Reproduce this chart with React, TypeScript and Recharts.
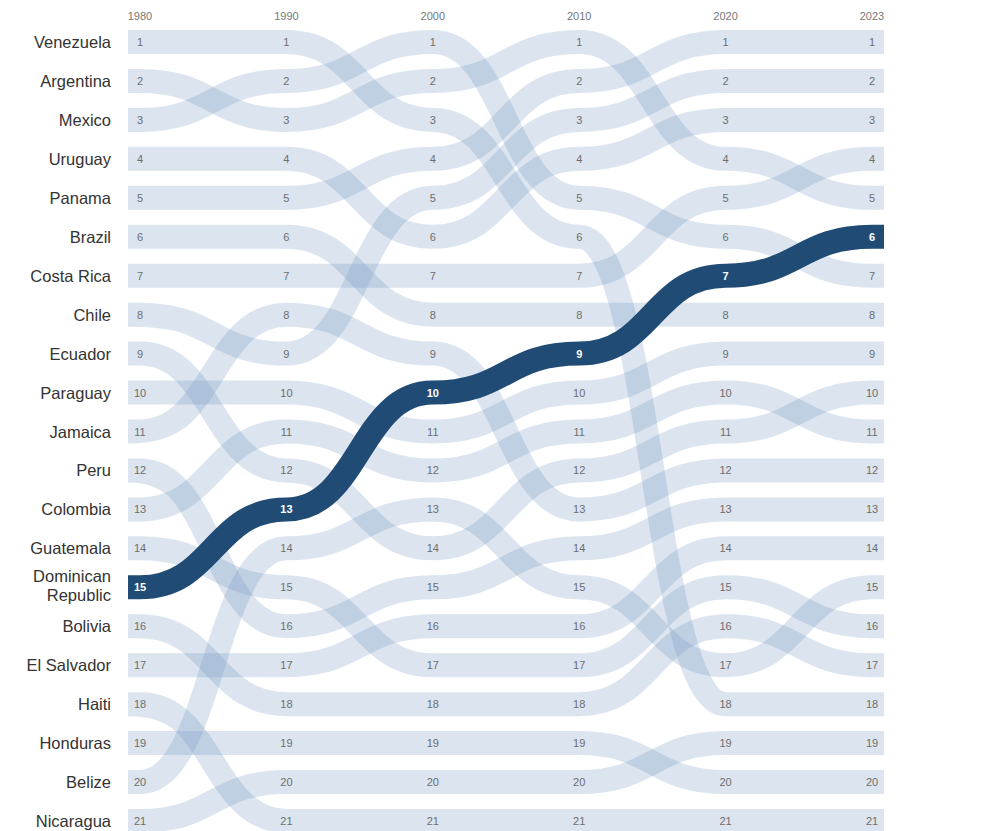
import { LineChart, Line, XAxis, YAxis, LabelList } from "recharts";

const YEARS = ["1980", "1990", "2000", "2010", "2020", "2023"];

const COUNTRIES = [
  "Venezuela", "Argentina", "Mexico", "Uruguay", "Panama", "Brazil", "Costa Rica",
  "Chile", "Ecuador", "Paraguay", "Jamaica", "Peru", "Colombia", "Guatemala",
  "Dominican Republic", "Bolivia", "El Salvador", "Haiti", "Honduras", "Belize", "Nicaragua",
];

const RANKS = [
  [1, 1, 3, 6, 18, 18],
  [2, 3, 2, 1, 4, 5],
  [3, 2, 1, 5, 6, 7],
  [4, 4, 6, 4, 3, 3],
  [5, 5, 4, 2, 1, 1],
  [6, 6, 8, 8, 8, 8],
  [7, 7, 7, 7, 5, 4],
  [8, 9, 5, 3, 2, 2],
  [9, 12, 14, 12, 11, 10],
  [10, 10, 11, 10, 9, 9],
  [11, 8, 9, 13, 12, 12],
  [12, 16, 15, 14, 13, 13],
  [13, 11, 12, 11, 10, 11],
  [14, 15, 17, 17, 15, 16],
  [15, 13, 10, 9, 7, 6],
  [16, 18, 18, 18, 16, 17],
  [17, 17, 16, 16, 14, 14],
  [18, 21, 21, 21, 21, 21],
  [19, 19, 19, 19, 20, 20],
  [20, 14, 13, 15, 17, 15],
  [21, 20, 20, 20, 19, 19],
];

const LEFT_LABELS = [
  "Venezuela", "Argentina", "Mexico", "Uruguay", "Panama", "Brazil", "Costa Rica",
  "Chile", "Ecuador", "Paraguay", "Jamaica", "Peru", "Colombia", "Guatemala",
  "Dominican Republic", "Bolivia", "El Salvador", "Haiti", "Honduras", "Belize", "Nicaragua",
];

const RIGHT_LABELS = [
  "Panama", "Chile", "Uruguay", "Costa Rica", "Argentina", "Dominican Republic", "Mexico",
  "Brazil", "Colombia", "Peru", "Paraguay", "Ecuador", "Jamaica", "El Salvador", "Belize",
  "Guatemala", "Bolivia", "Venezuela", "Nicaragua", "Honduras", "Haiti",
];

const RANK_TICKS = LEFT_LABELS.map((_, i) => i + 1);
const HIGHLIGHT = "Dominican Republic";
const FONT = '"Liberation Sans", Arial, Helvetica, sans-serif';

const data = YEARS.map((year, i) => {
  const row: Record<string, number | string> = { i, year };
  COUNTRIES.forEach((c, k) => {
    row[c] = RANKS[k][i];
  });
  return row;
});

function NameTick(props: any) {
  const { x, y, payload, labels, anchor } = props;
  const name: string = labels[payload.value - 1] ?? "";
  const lines = name.length > 14 ? name.split(" ") : [name];
  return (
    <text x={x} y={y} textAnchor={anchor} fontSize={16.5} fill="#333" fontFamily={FONT}>
      {lines.map((l, k) => (
        <tspan key={k} x={x} dy={k === 0 ? (lines.length > 1 ? -5 : 6) : 19}>
          {l}
        </tspan>
      ))}
    </text>
  );
}

function RankLabel(props: any) {
  const { x, y, value, highlight } = props;
  return (
    <text
      x={x}
      y={y}
      dy={4}
      textAnchor="middle"
      fontSize={11}
      fontFamily={FONT}
      fontWeight={highlight ? 700 : 400}
      fill={highlight ? "#ffffff" : "#6e6e6e"}
    >
      {value}
    </text>
  );
}

export default function App() {
  const others = COUNTRIES.filter((c) => c !== HIGHLIGHT);
  return (
    <LineChart width={988} height={823} data={data} margin={{ top: 14, right: 0, bottom: 10, left: 0 }}>
      <XAxis
        dataKey="i"
        type="number"
        domain={[0, YEARS.length - 1]}
        ticks={YEARS.map((_, i) => i)}
        tickFormatter={(v) => YEARS[v]}
        orientation="top"
        height={20}
        tickSize={0}
        tickMargin={22}
        axisLine={false}
        tickLine={false}
        interval={0}
        tick={{ fontSize: 11, fill: "#777", fontFamily: FONT }}
      />
      <YAxis
        yAxisId="left"
        type="number"
        domain={[1, 21]}
        reversed
        ticks={RANK_TICKS}
        interval={0}
        width={132}
        tickSize={0}
        tickMargin={29}
        axisLine={false}
        tickLine={false}
        tick={<NameTick labels={LEFT_LABELS} anchor="end" />}
      />
      <YAxis
        yAxisId="right"
        orientation="right"
        type="number"
        domain={[1, 21]}
        reversed
        ticks={RANK_TICKS}
        interval={0}
        width={124}
        tickSize={0}
        tickMargin={34}
        axisLine={false}
        tickLine={false}
        tick={<NameTick labels={RIGHT_LABELS} anchor="start" />}
      />
      {others.map((c) => (
        <Line
          key={c}
          yAxisId="left"
          dataKey={c}
          type="bumpX"
          stroke="#7b9cc4"
          strokeOpacity={0.27}
          strokeWidth={24}
          strokeLinecap="square"
          dot={false}
          activeDot={false}
          isAnimationActive={false}
        >
          <LabelList dataKey={c} content={(p: any) => <RankLabel {...p} />} />
        </Line>
      ))}
      <Line
        yAxisId="left"
        dataKey={HIGHLIGHT}
        type="bumpX"
        stroke="#1f4b75"
        strokeWidth={24}
        strokeLinecap="square"
        dot={false}
        activeDot={false}
        isAnimationActive={false}
      >
        <LabelList dataKey={HIGHLIGHT} content={(p: any) => <RankLabel {...p} highlight />} />
      </Line>
    </LineChart>
  );
}
